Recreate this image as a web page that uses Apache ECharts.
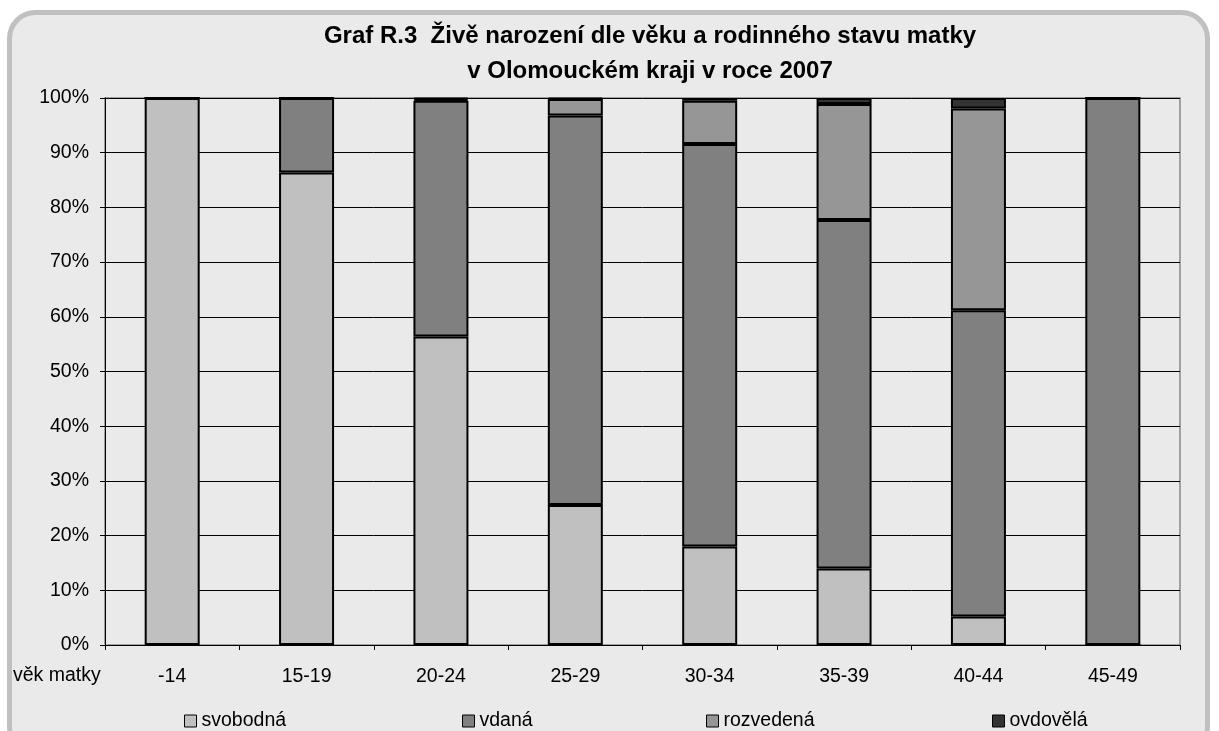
<!DOCTYPE html>
<html>
<head>
<meta charset="utf-8">
<script src="https://cdn.jsdelivr.net/npm/echarts@6/dist/echarts.min.js"></script>
<style>html,body{margin:0;padding:0;background:#fff;}#c{width:1219px;height:731px;}</style>
</head>
<body>
<div id="c"></div>
<script>
var categories = ['-14','15-19','20-24','25-29','30-34','35-39','40-44','45-49'];
var svobodna  = [100, 86.4, 56.4, 25.6, 18.0, 14.0, 5.2, 0];
var vdana     = [0, 13.6, 43.1, 71.2, 73.6, 63.7, 56.0, 100];
var rozvedena = [0, 0, 0.3, 3.0, 7.9, 21.2, 36.9, 0];
var ovdovela  = [0, 0, 0.2, 0.2, 0.5, 1.1, 1.9, 0];
var seriesNames = ['svobodná','vdaná','rozvedená','ovdovělá'];
var seriesColors = ['#c0c0c0','#808080','#969696','#333333'];
var seriesData = [svobodna, vdana, rozvedena, ovdovela];
var legendLeft = [184, 462, 706, 992];

var FONT = 'Liberation Sans, Arial, sans-serif';
var chart = echarts.init(document.getElementById('c'), null, {renderer:'canvas'});
var series = seriesNames.map(function(n,i){
  return {
    name: n, type: 'bar', stack: 'a', barWidth: 55,
    data: seriesData[i],
    itemStyle: {color: seriesColors[i], borderColor: '#000', borderWidth: 2},
    emphasis: {disabled: true}
  };
});
var legends = seriesNames.map(function(n,i){
  return {
    data: [n], left: legendLeft[i], top: 711, itemWidth: 12, itemHeight: 12, itemGap: 6,
    icon: 'rect', padding: 0,
    textStyle: {fontFamily: FONT, fontSize: 19.5, color: '#000'},
    itemStyle: {borderColor: '#000', borderWidth: 1}
  };
});
chart.setOption({
  animation: false,
  backgroundColor: '#fff',
  graphic: [
    {type: 'rect', z: -10, shape: {x: 9.5, y: 12.5, width: 1198, height: 740, r: 26},
     style: {fill: '#eaeaea', stroke: '#c0c0c0', lineWidth: 5}},
    {type: 'text', left: 13, top: 666, style: {text: 'věk matky', font: '19.5px ' + FONT, fill: '#000'}}
  ],
  title: {
    text: 'Graf R.3  Živě narození dle věku a rodinného stavu matky\nv Olomouckém kraji v roce 2007',
    left: 650, top: 19, textAlign: 'center', padding: 0,
    textStyle: {fontFamily: FONT, fontSize: 24, fontWeight: 'bold', color: '#000', lineHeight: 35}
  },
  legend: legends,
  grid: {left: 105, right: 39, top: 98, bottom: 86, show: true, backgroundColor: '#eaeaea', borderColor: '#888', borderWidth: 1.5},
  xAxis: {
    type: 'category', data: categories,
    axisLine: {lineStyle: {color: '#000', width: 1}},
    axisTick: {show: true, length: 5, lineStyle: {color: '#000'}},
    axisLabel: {margin: 22, fontFamily: FONT, fontSize: 19.5, color: '#000'}
  },
  yAxis: {
    type: 'value', min: 0, max: 100, interval: 10,
    axisLine: {show: true, lineStyle: {color: '#000', width: 1}},
    axisTick: {show: true, length: 5, lineStyle: {color: '#000'}},
    axisLabel: {formatter: '{value}%', margin: 16, fontFamily: FONT, fontSize: 19.5, color: '#000'},
    splitLine: {lineStyle: {color: '#000', width: 1}}
  },
  series: series
});
</script>
</body>
</html>
